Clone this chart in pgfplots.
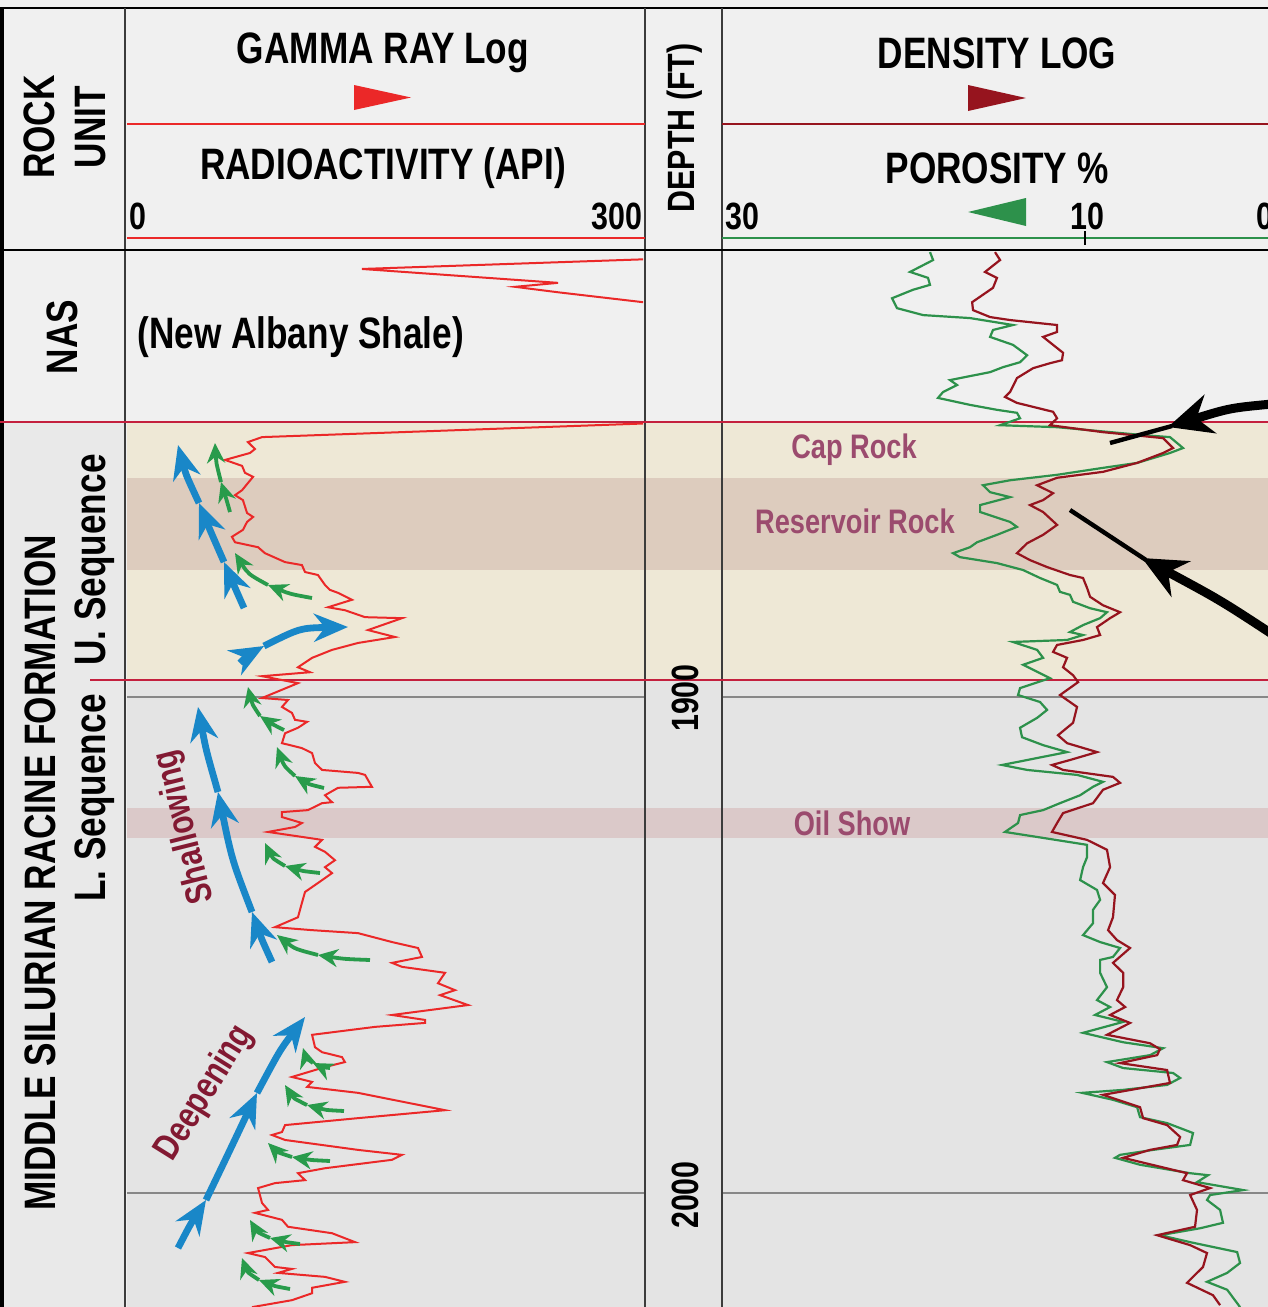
\documentclass[border=0pt]{standalone}
\usepackage{pgfplots}
\pgfplotsset{compat=1.18}
\usepackage{fontspec}
\setmainfont{Liberation Sans}[FakeStretch=0.8]
\usetikzlibrary{arrows.meta}
\definecolor{bgLight}{RGB}{240,240,240}
\definecolor{rockGray}{RGB}{233,233,233}
\definecolor{beige}{RGB}{238,232,214}
\definecolor{tan}{RGB}{221,204,190}
\definecolor{lowGray}{RGB}{228,228,228}
\definecolor{oilPink}{RGB}{219,201,201}
\definecolor{redLine}{RGB}{196,32,62}
\definecolor{gammaRed}{RGB}{235,40,40}
\definecolor{densRed}{RGB}{150,20,30}
\definecolor{porGreen}{RGB}{45,145,75}
\definecolor{blueArrow}{RGB}{25,135,200}
\definecolor{greenArrow}{RGB}{40,155,75}
\definecolor{mauve}{RGB}{155,75,110}
\definecolor{darkRedText}{RGB}{130,25,50}
\definecolor{frame}{RGB}{60,60,60}
\definecolor{gridGray}{RGB}{135,135,135}
\newcommand\hf{\fontsize{22}{24}\selectfont\bfseries}
\newcommand\lf{\fontsize{17}{19}\selectfont\bfseries}
\newcommand\df{\fontsize{19}{21}\selectfont\bfseries}
\begin{document}
\begin{tikzpicture}
\path[use as bounding box] (0,0) rectangle (634pt,-653.5pt);
\begin{scope}[x=0.5pt,y=-0.5pt]
  % backgrounds
  \fill[bgLight] (0,0) rectangle (1268,1307);
  \fill[rockGray] (0,422) rectangle (125,1307);
  \fill[beige] (127,422) rectangle (1268,680);
  \fill[tan] (127,478) rectangle (1268,570);
  \fill[lowGray] (127,680) rectangle (1268,1307);
  \fill[oilPink] (127,808) rectangle (1268,838);
  % depth grid lines
  \draw[gridGray, line width=1.3pt] (127,697) -- (645,697) (722,697) -- (1268,697);
  \draw[gridGray, line width=1.3pt] (127,1193) -- (645,1193) (722,1193) -- (1268,1193);
  \draw[gridGray, line width=1.3pt] (638,697) -- (645,697);
  % frame
  \draw[black, line width=1.2pt] (0,8) -- (1268,8);
  \draw[black, line width=2pt] (2,8) -- (2,1307);
  \draw[frame, line width=1pt] (125,8) -- (125,1307);
  \draw[frame, line width=1pt] (645,8) -- (645,1307);
  \draw[frame, line width=1pt] (722,8) -- (722,1307);
  \draw[black, line width=1.2pt] (0,250) -- (1268,250);
  % header rules
  \draw[gammaRed, line width=1pt] (127,124) -- (645,124);
  \draw[gammaRed, line width=1pt] (127,238) -- (645,238);
  \draw[densRed, line width=1pt] (722,124) -- (1268,124);
  \draw[porGreen, line width=1pt] (722,238) -- (1268,238);
  \draw[black, line width=0.8pt] (1085,231) -- (1085,245);
  % formation tops
  \draw[redLine, line width=1.4pt] (0,422) -- (1268,422);
  \draw[redLine, line width=1.4pt] (90,680) -- (1268,680);
\end{scope}

% ---------------- GAMMA RAY track ----------------
\begin{axis}[
  at={(192.5pt,-389.25pt)}, anchor=center,
  scale only axis, hide axis, clip=true,
  width=258pt, height=528.5pt,
  xmin=0, xmax=300,
  ymin=1809.88, ymax=2022.98, y dir=reverse]
\addplot[gammaRed, line width=1pt] coordinates {
(305,1811.7)(136.6,1813.7)(250.6,1816.5)(225.6,1817.3)(250.6,1818.4)(305,1820.6)};
\addplot[gammaRed, line width=1pt] coordinates {
(305,1844.8)(78.5,1847.6)(70.3,1848.6)(74.4,1850.0)(71.5,1850.8)(57.0,1852.2)(66.9,1853.4)(68.6,1854.8)(73.3,1855.6)(66.9,1858.3)(62.8,1859.3)(67.4,1860.3)(69.8,1862.9)(73.3,1863.7)(69.8,1864.7)(67.4,1866.3)(61.0,1867.7)(62.8,1868.8)(76.2,1869.8)(80.2,1871.0)(91.9,1872.8)(101.7,1873.4)(103.5,1874.8)(111.0,1875.4)(115.1,1877.4)(118.0,1878.4)(122.7,1879.0)(130.8,1880.4)(116.9,1881.9)(126.7,1882.5)(138.4,1883.9)(159.9,1884.1)(140.1,1886.5)(155.8,1887.9)(134.3,1889.1)(119.2,1890.5)(107.6,1892.1)(99.4,1894.0)(106.4,1895.0)(78.5,1895.8)(99.4,1897.2)(78.5,1900.2)(93.6,1900.6)(90.1,1902.0)(95.9,1903.2)(97.7,1904.6)(104.7,1905.0)(99.4,1906.2)(91.9,1907.3)(90.1,1909.3)(101.7,1910.3)(107.6,1911.3)(109.3,1913.3)(113.4,1914.7)(134.3,1915.3)(138.4,1915.7)(142.4,1918.1)(122.7,1918.3)(115.1,1919.8)(119.2,1921.2)(113.4,1921.4)(105.2,1922.8)(90.1,1923.2)(90.1,1924.2)(101.7,1925.4)(97.7,1926.2)(82.0,1927.2)(101.7,1928.2)(113.4,1928.8)(109.3,1930.2)(115.1,1931.2)(120.9,1932.9)(115.1,1934.3)(119.2,1935.5)(111.0,1937.5)(103.5,1939.3)(101.7,1941.5)(99.4,1944.4)(86.0,1946.4)(107.6,1947.0)(134.3,1947.6)(154.1,1949.4)(169.2,1950.6)(171.5,1952.4)(154.1,1953.6)(159.9,1954.4)(184.9,1955.6)(180.8,1957.7)(190.7,1959.1)(182.0,1960.1)(198.3,1962.1)(154.1,1964.1)(173.3,1965.1)(173.3,1965.7)(144.2,1966.5)(107.6,1968.1)(109.3,1970.6)(113.4,1971.6)(125.0,1972.6)(126.7,1973.6)(115.1,1974.6)(95.9,1976.6)(107.6,1977.6)(104.7,1978.6)(134.3,1979.8)(184.9,1983.3)(134.3,1984.9)(91.9,1986.3)(90.1,1987.7)(84.3,1988.3)(91.9,1989.3)(134.3,1991.3)(159.9,1992.3)(154.1,1993.3)(115.1,1995.0)(99.4,1996.0)(103.5,1997.4)(86.0,1998.0)(76.2,1999.0)(78.5,2002.0)(82.0,2003.4)(74.4,2004.0)(90.1,2005.4)(93.6,2006.8)(119.2,2008.1)(132.6,2009.9)(95.9,2010.5)(70.3,2012.1)(80.2,2012.9)(86.0,2014.9)(95.9,2015.3)(87.8,2016.1)(115.1,2016.9)(126.7,2017.9)(107.6,2019.1)(107.6,2020.2)(95.9,2021.6)(72.7,2023.0)};
\end{axis}

% ---------------- DENSITY / POROSITY track ----------------
\begin{axis}[
  at={(497.5pt,-389.25pt)}, anchor=center,
  scale only axis, hide axis, clip=true,
  width=273pt, height=528.5pt,
  xmin=-0.08, xmax=30, x dir=reverse,
  ymin=1809.88, ymax=2022.98, y dir=reverse]
\addplot[porGreen, line width=1.1pt] coordinates {
(18.54,1810.3)(18.37,1811.9)(19.64,1814.3)(18.65,1815.5)(18.54,1816.9)(19.48,1817.9)(20.63,1819.6)(20.36,1821.6)(18.92,1823.0)(16.34,1823.6)(13.97,1825.0)(15.07,1826.0)(15.23,1827.4)(13.97,1829.0)(13.19,1831.1)(13.58,1832.5)(14.52,1833.5)(15.23,1834.5)(17.44,1836.1)(17.05,1837.1)(17.82,1838.5)(18.10,1839.7)(16.34,1841.1)(14.85,1842.1)(13.75,1842.7)(13.58,1843.8)(14.68,1845.2)(11.54,1845.6)(6.80,1847.2)(5.32,1847.6)(4.60,1849.8)(5.32,1850.8)(7.13,1852.8)(9.01,1853.8)(11.54,1855.2)(14.13,1856.3)(15.62,1857.3)(15.23,1858.7)(14.13,1859.7)(15.78,1861.3)(15.78,1862.7)(14.13,1864.7)(13.75,1865.7)(14.85,1867.3)(15.95,1868.8)(16.34,1869.8)(17.27,1871.0)(16.89,1871.8)(14.85,1873.0)(13.41,1874.4)(12.48,1876.0)(11.54,1877.4)(11.38,1878.8)(10.83,1879.4)(10.66,1880.8)(9.72,1882.1)(8.79,1882.9)(9.17,1884.1)(10.11,1885.5)(10.83,1886.9)(10.11,1887.5)(10.99,1888.5)(13.97,1888.9)(12.64,1890.5)(12.31,1892.1)(13.41,1893.5)(11.93,1896.2)(13.58,1898.2)(13.69,1899.6)(12.48,1901.0)(12.09,1902.6)(12.64,1904.2)(13.58,1906.2)(13.47,1908.1)(12.31,1909.7)(10.99,1911.1)(12.64,1912.3)(14.57,1913.7)(13.19,1914.7)(10.44,1915.7)(9.01,1917.1)(9.56,1918.1)(10.27,1919.8)(11.38,1921.4)(12.31,1922.8)(13.58,1923.8)(13.69,1925.4)(14.41,1927.2)(12.31,1928.4)(9.89,1929.8)(9.89,1932.3)(10.11,1934.3)(10.27,1936.9)(9.34,1938.9)(9.17,1940.9)(9.56,1942.9)(9.56,1945.6)(10.11,1948.0)(9.17,1949.4)(8.07,1950.6)(8.46,1952.4)(9.17,1953.0)(9.17,1955.6)(8.79,1958.5)(9.34,1961.1)(8.62,1962.5)(9.45,1964.1)(7.90,1965.5)(10.11,1967.7)(7.90,1969.6)(5.70,1970.8)(6.42,1972.2)(8.79,1973.6)(7.90,1974.8)(5.15,1975.8)(4.76,1976.8)(5.48,1978.2)(7.90,1979.2)(10.16,1979.8)(8.46,1981.2)(7.13,1982.7)(6.97,1984.7)(5.48,1985.9)(4.05,1987.9)(4.21,1990.3)(6.25,1991.3)(8.07,1992.3)(8.35,1992.9)(6.97,1994.3)(4.21,1996.0)(3.22,1996.4)(3.83,1997.8)(1.29,1999.4)(3.11,2000.4)(3.28,2001.4)(2.56,2003.4)(2.40,2006.0)(3.66,2007.1)(5.87,2008.5)(4.21,2009.9)(1.62,2011.9)(1.46,2014.1)(2.17,2016.1)(3.28,2017.9)(2.17,2019.5)(1.62,2022.2)(1.46,2023.0)};
\addplot[densRed, line width=1.1pt] coordinates {
(14.96,1810.3)(14.68,1811.9)(15.51,1814.3)(14.85,1815.5)(15.07,1817.5)(16.22,1820.4)(16.17,1822.0)(15.23,1823.4)(14.13,1824.0)(11.54,1825.0)(11.54,1826.4)(12.31,1827.4)(11.76,1829.0)(11.21,1830.6)(11.27,1832.1)(11.93,1832.7)(12.86,1833.7)(13.75,1835.7)(14.13,1838.5)(14.41,1839.5)(13.75,1840.7)(12.64,1841.7)(11.76,1842.5)(11.54,1843.8)(11.93,1845.2)(9.01,1846.6)(5.70,1847.8)(5.15,1849.8)(5.70,1850.8)(7.13,1852.8)(9.01,1854.6)(11.54,1855.8)(12.64,1857.3)(11.76,1858.9)(12.31,1860.3)(13.03,1861.3)(12.31,1862.7)(11.54,1865.3)(12.31,1867.3)(13.19,1869.0)(13.75,1871.0)(13.03,1872.4)(12.09,1873.8)(10.83,1875.4)(10.11,1876.0)(9.89,1878.0)(9.72,1879.8)(9.01,1881.5)(8.07,1882.9)(8.62,1884.1)(9.34,1885.9)(9.17,1887.5)(10.11,1888.5)(11.54,1889.5)(11.76,1890.9)(10.99,1892.1)(11.21,1894.0)(10.66,1895.6)(10.38,1897.0)(11.38,1899.6)(10.44,1902.0)(10.66,1905.2)(11.49,1907.7)(10.99,1909.3)(9.34,1911.1)(10.83,1912.7)(11.82,1913.7)(11.21,1914.7)(8.46,1916.1)(8.07,1917.3)(9.01,1918.7)(9.56,1921.4)(11.21,1923.4)(11.54,1925.4)(11.82,1927.2)(9.89,1928.8)(8.79,1930.8)(8.62,1934.3)(9.01,1937.5)(8.35,1939.9)(8.46,1944.4)(8.73,1947.0)(8.24,1949.0)(7.52,1950.6)(8.46,1953.6)(7.90,1955.6)(7.90,1958.5)(8.24,1961.1)(7.79,1962.5)(8.62,1964.1)(7.52,1965.7)(8.79,1968.1)(6.42,1969.8)(5.87,1971.0)(6.03,1972.2)(8.07,1973.8)(5.48,1975.2)(5.32,1977.8)(9.01,1980.2)(6.97,1982.7)(6.80,1984.9)(5.48,1986.3)(4.76,1988.7)(4.93,1990.3)(6.42,1991.3)(7.90,1992.9)(4.38,1996.0)(4.60,1997.4)(3.11,1999.0)(4.21,2000.4)(3.83,2003.4)(3.94,2006.8)(6.03,2008.5)(4.21,2010.5)(3.28,2012.1)(3.50,2014.9)(4.38,2018.1)(2.95,2020.6)(2.56,2022.6)};
\end{axis}

\begin{scope}[x=0.5pt,y=-0.5pt]
  % header texts
  \node[rotate=90] at (39,127) {\hf ROCK};
  \node[rotate=90] at (91,127) {\hf UNIT};
  \node at (383,53) {\hf GAMMA RAY Log};
  \node at (383,168) {\hf RADIOACTIVITY (API)};
  \node[anchor=west, inner sep=0pt] at (129,216) {\df 0};
  \node[anchor=east, inner sep=0pt] at (643,216) {\df 300};
  \node[rotate=90] at (685,128) {\df DEPTH (FT)};
  \node at (997,53) {\hf DENSITY LOG};
  \node at (997,168) {\hf POROSITY \%};
  \node[anchor=west, inner sep=0pt] at (725,216) {\df 30};
  \node[inner sep=0pt] at (1087,216) {\df 10};
  \node[anchor=west, inner sep=0pt] at (1256,216) {\df 0};
  % triangles
  \fill[gammaRed] (354,85) -- (354,110) -- (411,97.5) -- cycle;
  \fill[densRed] (968,85) -- (968,111) -- (1026,98) -- cycle;
  \fill[porGreen] (1026,198) -- (1026,226) -- (968,212) -- cycle;
  % rock unit column
  \node[rotate=90] at (62,337) {\hf NAS};
  \node[rotate=90] at (40,873) {\hf MIDDLE SILURIAN RACINE FORMATION};
  \node[rotate=90] at (95,560) {\hf U. Sequence};
  \node[rotate=90] at (95,798) {\hf L. Sequence};
  % depth labels
  \node[rotate=90] at (685,698) {\df 1900};
  \node[rotate=90] at (685,1195) {\df 2000};
  % track labels
  \node[anchor=west, inner sep=0pt] at (137,337) {\hf (New Albany Shale)};
  \node[text=mauve] at (854,450) {\lf Cap Rock};
  \node[text=mauve] at (855,521) {\lf Reservoir Rock};
  \node[text=mauve] at (852,823) {\lf Oil Show};
  \node[text=darkRedText, rotate=104] at (185,827) {\fontsize{18.5}{20}\selectfont\bfseries Shallowing};
  \node[text=darkRedText, rotate=58] at (205,1093) {\fontsize{18.5}{20}\selectfont\bfseries Deepening};
  % blue arrows
  \tikzset{barrow/.style={draw=blueArrow, line width=3.4pt, -{Stealth[length=17pt,width=14pt]}}}
  \draw[barrow] (244,608) .. controls (236,590) .. (224,562);
  \draw[barrow] (224,562) .. controls (210,530) .. (199,503);
  \draw[barrow] (199,503) .. controls (186,475) .. (178,445);
  \draw[barrow] (240,663) .. controls (248,655) .. (264,646);
  \draw[barrow] (264,646) .. controls (300,628) .. (348,627);
  \draw[barrow] (272,962) .. controls (262,940) .. (252,912);
  \draw[barrow] (252,912) .. controls (232,860) .. (218,792);
  \draw[barrow] (218,792) .. controls (206,750) .. (198,707);
  \draw[barrow] (178,1248) .. controls (190,1225) .. (206,1200);
  \draw[barrow] (206,1200) .. controls (230,1150) .. (257,1093);
  \draw[barrow] (257,1093) .. controls (280,1050) .. (305,1017);
  % green arrows
  \tikzset{garrow/.style={draw=greenArrow, line width=1.9pt, -{Stealth[length=10pt,width=9pt]}}}
  \draw[garrow] (230,512) .. controls (226,498) .. (221,482); \draw[garrow] (221,482) .. controls (216,462) .. (215,443);
  \draw[garrow] (312,598) .. controls (290,594) .. (268,585); \draw[garrow] (268,585) .. controls (248,574) .. (235,553);
  \draw[garrow] (284,730) .. controls (272,724) .. (260,716); \draw[garrow] (260,716) .. controls (252,704) .. (248,687);
  \draw[garrow] (324,788) .. controls (308,784) .. (295,776); \draw[garrow] (295,776) .. controls (284,766) .. (277,747);
  \draw[garrow] (320,873) .. controls (302,871) .. (285,866); \draw[garrow] (285,866) .. controls (272,858) .. (265,843);
  \draw[garrow] (370,960) .. controls (344,959) .. (318,955); \draw[garrow] (318,955) .. controls (295,949) .. (277,935);
  \draw[garrow] (330,1068) .. controls (321,1067) .. (313,1063); \draw[garrow] (313,1063) .. controls (306,1058) .. (303,1048);
  \draw[garrow] (344,1111) .. controls (325,1110) .. (307,1105); \draw[garrow] (307,1105) .. controls (293,1098) .. (285,1085);
  \draw[garrow] (330,1161) .. controls (310,1160) .. (292,1157); \draw[garrow] (292,1157) .. controls (277,1152) .. (268,1143);
  \draw[garrow] (300,1244) .. controls (285,1242) .. (270,1238); \draw[garrow] (270,1238) .. controls (257,1232) .. (250,1220);
  \draw[garrow] (290,1289) .. controls (274,1286) .. (259,1280); \draw[garrow] (259,1280) .. controls (247,1272) .. (242,1258);
  % black arrows
  \draw[black, line width=4.5pt, -{Stealth[length=22pt,width=20pt]}] (1272,404) .. controls (1230,408) .. (1168,427);
  \draw[black, line width=2.2pt] (1172,426) -- (1110,443);
  \draw[black, line width=4.5pt, -{Stealth[length=22pt,width=20pt]}] (1272,634) .. controls (1220,600) .. (1142,558);
  \draw[black, line width=2.2pt] (1146,560) -- (1070,510);
\end{scope}
\end{tikzpicture}
\end{document}
